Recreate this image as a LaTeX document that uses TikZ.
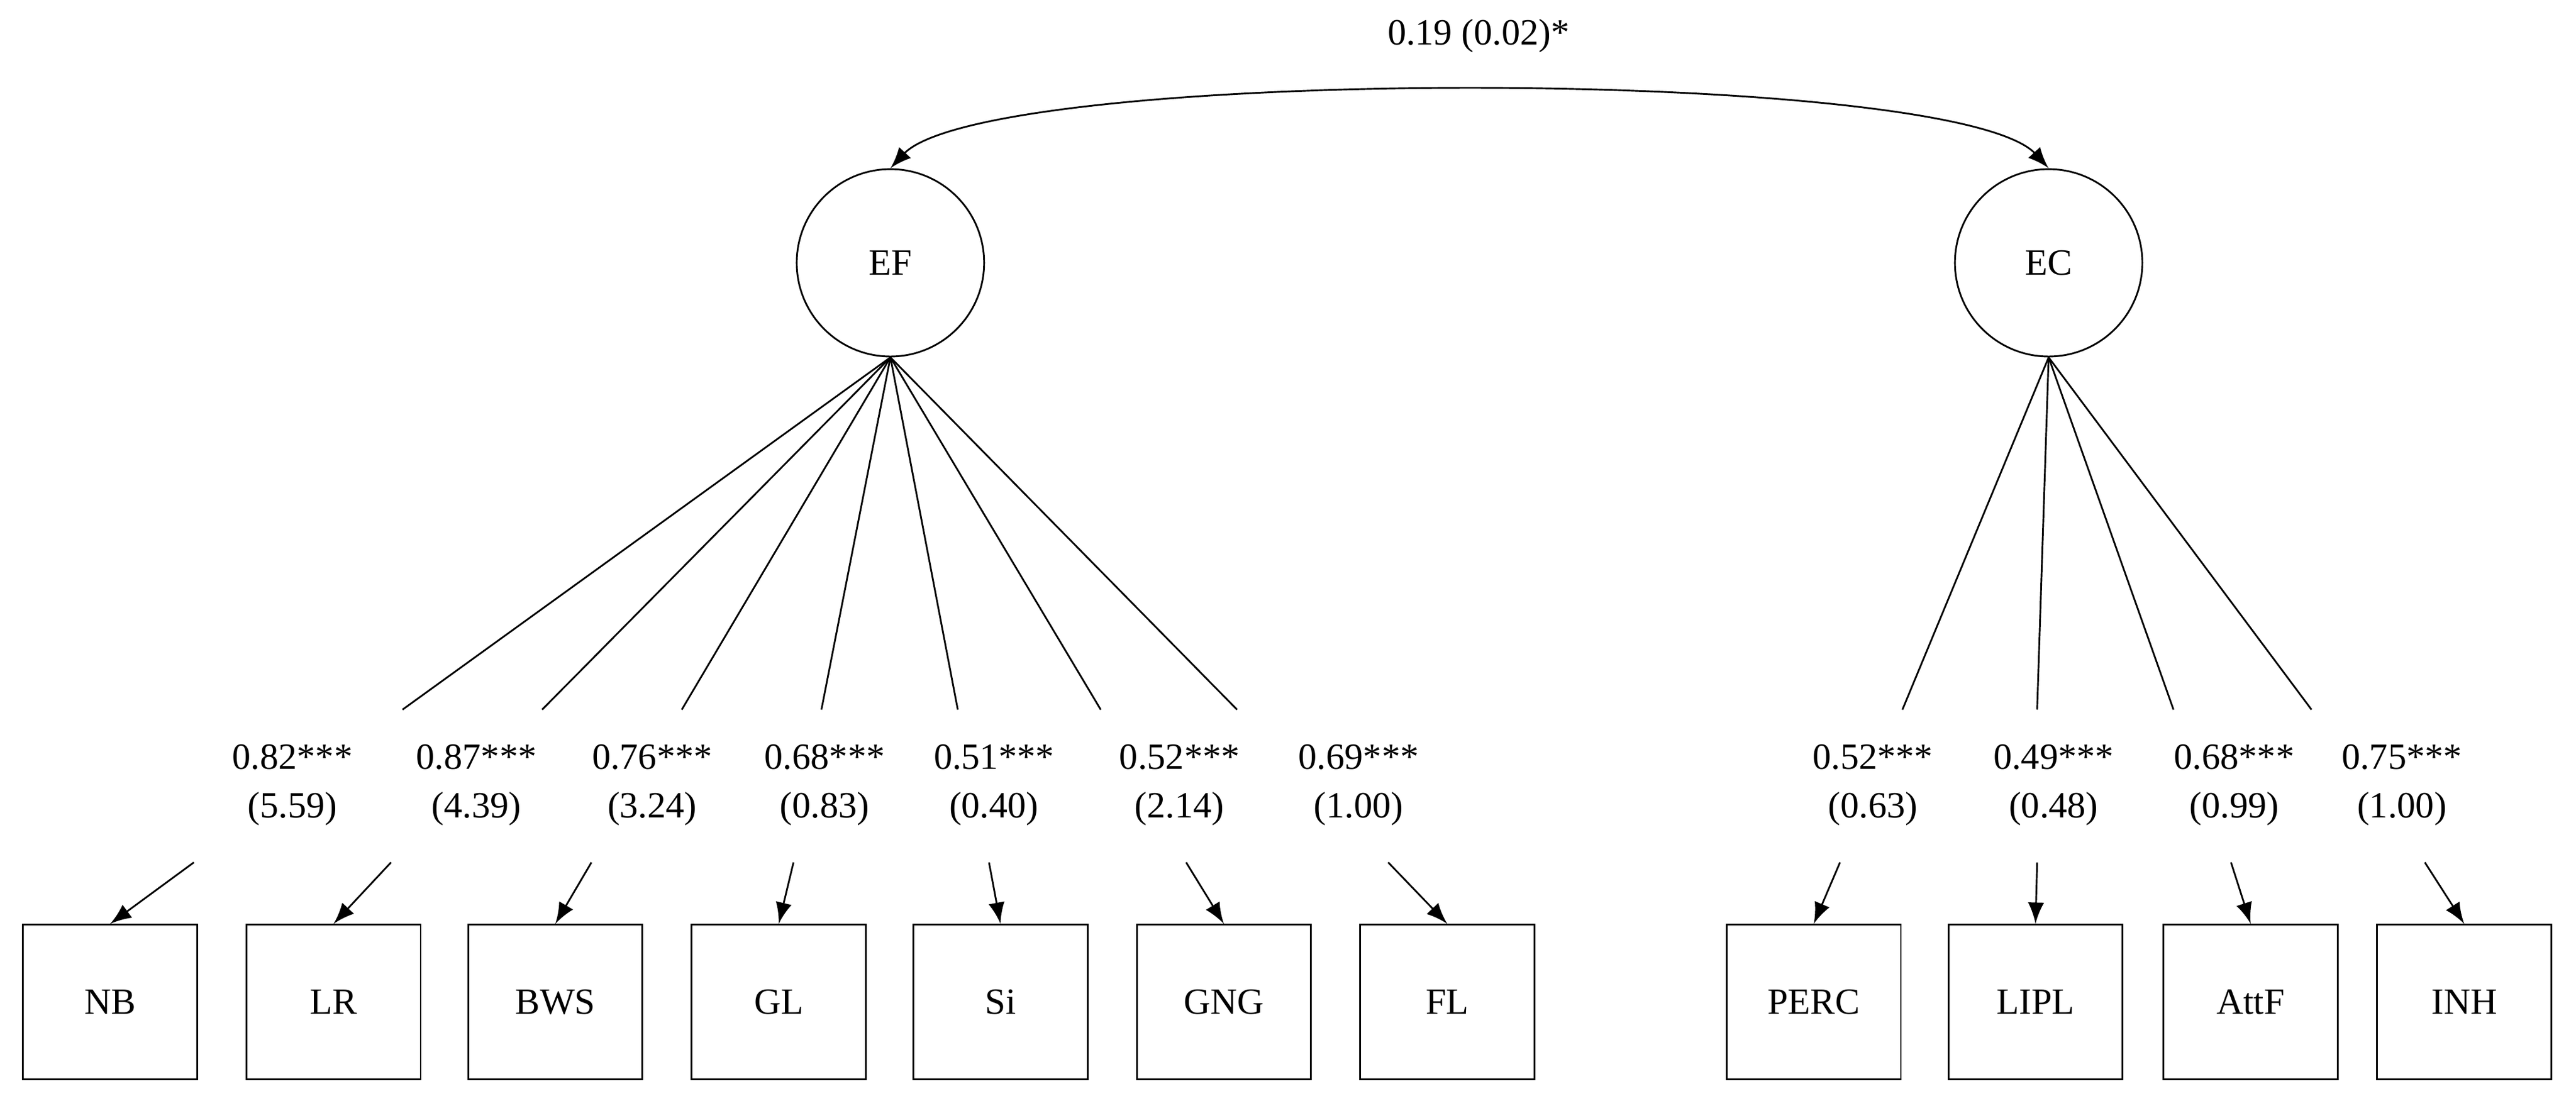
\documentclass[tikz,border=0pt]{standalone}
\usepackage{fontspec}
\setmainfont{Liberation Serif}
\tikzset{>=latex,
  latent/.style={draw, circle, minimum size=1.14cm, inner sep=0pt},
  obs/.style={draw, minimum width=1.06cm, minimum height=0.94cm, inner sep=0pt},
  lab/.style={align=center, inner sep=0pt}}
\begin{document}
\begin{tikzpicture}[x=0.01cm,y=-0.01cm,line width=0.3pt,font=\fontsize{6.4}{8.4}\selectfont]
\useasboundingbox (0,0) rectangle (1568,670);
\node[latent] (EF) at (542,160) {EF};
\node[latent] (EC) at (1247,160) {EC};
\draw[<->] (EF.north) .. controls (600,40) and (1190,40) .. (EC.north);
\node[lab] (cov) at (900,22) {0.19 (0.02)*};

% EF indicators
\node[obs] (NB) at (67,610) {NB};
\node[obs] (LR) at (203,610) {LR};
\node[obs] (BWS) at (338,610) {BWS};
\node[obs] (GL) at (474,610) {GL};
\node[obs] (Si) at (609,610) {Si};
\node[obs] (GNG) at (745,610) {GNG};
\node[obs] (FL) at (881,610) {FL};
% EC indicators
\node[obs] (PERC) at (1104,610) {PERC};
\node[obs] (LIPL) at (1239,610) {LIPL};
\node[obs] (AttF) at (1370,610) {AttF};
\node[obs] (INH) at (1500,610) {INH};

% loadings
\foreach \n/\lx/\ex/\sx/\txt in {
  NB/245/178/118/{0.82***\\(5.59)},
  LR/330/290/238/{0.87***\\(4.39)},
  BWS/415/397/360/{0.76***\\(3.24)},
  GL/500/502/483/{0.68***\\(0.83)},
  Si/583/605/602/{0.51***\\(0.40)},
  GNG/670/718/722/{0.52***\\(2.14)},
  FL/753/827/845/{0.69***\\(1.00)}}{
  \coordinate (t\n) at (\lx,432);
  \coordinate (s\n) at (\sx,525);
  \node[lab] (l\n) at (\ex,478) {\txt};
  \draw (EF.south) -- (t\n);
  \draw[->] (s\n) -- (\n.north);
}
\foreach \n/\lx/\ex/\sx/\txt in {
  PERC/1158/1140/1120/{0.52***\\(0.63)},
  LIPL/1240/1250/1240/{0.49***\\(0.48)},
  AttF/1323/1360/1358/{0.68***\\(0.99)},
  INH/1407/1462/1476/{0.75***\\(1.00)}}{
  \coordinate (t\n) at (\lx,432);
  \coordinate (s\n) at (\sx,525);
  \node[lab] (l\n) at (\ex,478) {\txt};
  \draw (EC.south) -- (t\n);
  \draw[->] (s\n) -- (\n.north);
}
\end{tikzpicture}
\end{document}
